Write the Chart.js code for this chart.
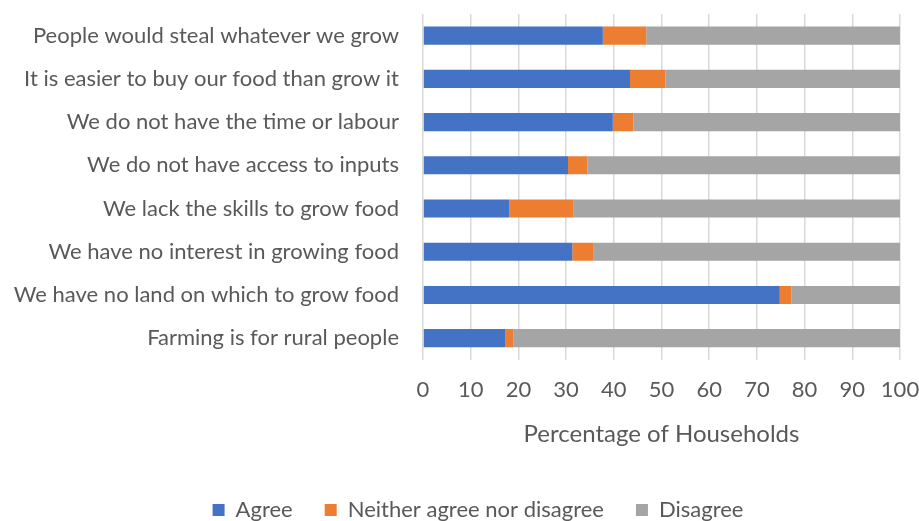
<!DOCTYPE html>
<html>
<head>
<meta charset="utf-8">
<script src="https://cdn.jsdelivr.net/npm/chart.js@4"></script>
<style>
  html, body { margin: 0; padding: 0; background: #fff; }
  #wrap { width: 919px; height: 521px; }
</style>
</head>
<body>
<div id="wrap"><canvas id="chart" width="919" height="521"></canvas></div>
<script>
const categories = [
  'People would steal whatever we grow',
  'It is easier to buy our food than grow it',
  'We do not have the time or labour',
  'We do not have access to inputs',
  'We lack the skills to grow food',
  'We have no interest in growing food',
  'We have no land on which to grow food',
  'Farming is for rural people'
];
const agree = [37.7, 43.4, 39.8, 30.4, 18.1, 31.3, 74.8, 17.3];
const neither = [9.1, 7.4, 4.3, 4.1, 13.5, 4.5, 2.4, 1.7];
const disagree = [53.2, 49.2, 55.9, 65.5, 68.4, 64.2, 22.8, 81.0];

const textColor = '#595959';
const font = 'Lato, "Open Sans", sans-serif';

// legend in the original sits a bit right of centre
const shiftLegend = {
  id: 'shiftLegend',
  afterLayout(chart) {
    chart.legend.left += 24;
    chart.legend.right += 24;
  }
};

const ctx = document.getElementById('chart').getContext('2d');

new Chart(ctx, {
  type: 'bar',
  data: {
    labels: categories,
    datasets: [
      { label: 'Agree', data: agree, backgroundColor: '#4472C4' },
      { label: 'Neither agree nor disagree', data: neither, backgroundColor: '#ED7D31' },
      { label: 'Disagree', data: disagree, backgroundColor: '#A5A5A5' }
    ]
  },
  plugins: [shiftLegend],
  options: {
    indexAxis: 'y',
    responsive: false,
    animation: false,
    barPercentage: 0.42,
    categoryPercentage: 1,
    layout: { padding: { top: 14, right: 19, left: 8, bottom: -10 } },
    plugins: {
      tooltip: { enabled: false },
      legend: {
        position: 'bottom',
        labels: {
          color: textColor,
          font: { family: font, size: 22 },
          boxWidth: 12,
          boxHeight: 12,
          padding: 32
        }
      }
    },
    scales: {
      x: {
        stacked: true,
        min: 0,
        max: 100,
        afterFit: (scale) => {
          scale.paddingLeft = 0;
          scale.paddingRight = 0;
        },
        ticks: {
          stepSize: 10,
          color: textColor,
          font: { family: font, size: 22 },
          padding: 17
        },
        grid: { color: '#d9d9d9', lineWidth: 1.5, drawTicks: false },
        border: { display: false },
        title: {
          display: true,
          text: 'Percentage of Households',
          color: textColor,
          font: { family: font, size: 24 },
          padding: { top: 0, bottom: 18 }
        }
      },
      y: {
        stacked: true,
        afterFit: (scale) => {
          scale.width = 415;
          scale.paddingTop = 0;
          scale.paddingBottom = 0;
        },
        ticks: {
          color: textColor,
          font: { family: font, size: 22 },
          padding: 24
        },
        grid: { display: false, drawTicks: false },
        border: { display: false }
      }
    }
  }
});
</script>
</body>
</html>
